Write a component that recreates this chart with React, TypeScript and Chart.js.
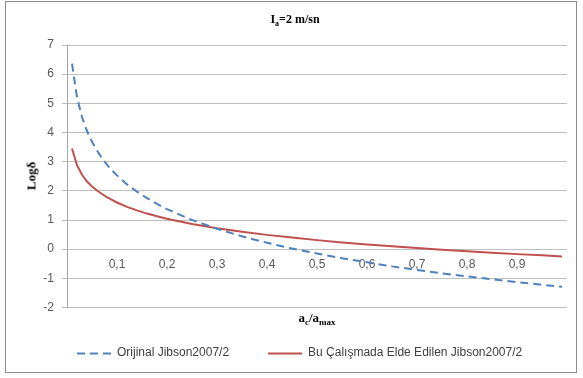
import React, { useEffect, useRef } from "react";
import { Chart, registerables } from "chart.js";

Chart.register(...registerables);

// a_c / a_max values (x)
const ratio = [
  0.01, 0.02, 0.03, 0.04, 0.05, 0.06, 0.07, 0.08, 0.09, 0.1,
  0.12, 0.14, 0.16, 0.18, 0.2, 0.25, 0.3, 0.35, 0.4, 0.45,
  0.5, 0.55, 0.6, 0.65, 0.7, 0.75, 0.8, 0.85, 0.9, 0.95, 0.99,
];

// Orijinal Jibson2007/2 (dashed blue)
const orijinal = [
  6.36, 5.21, 4.53, 4.05, 3.68, 3.38, 3.12, 2.9, 2.7, 2.53,
  2.22, 1.97, 1.75, 1.55, 1.37, 1.0, 0.7, 0.44, 0.22, 0.02,
  -0.15, -0.31, -0.45, -0.59, -0.71, -0.83, -0.93, -1.03, -1.13, -1.22, -1.29,
];

// Bu Çalışmada Elde Edilen Jibson2007/2 (solid red)
const buCalisma = [
  3.45, 2.88, 2.55, 2.32, 2.15, 2.01, 1.89, 1.78, 1.69, 1.6,
  1.45, 1.33, 1.22, 1.13, 1.04, 0.86, 0.72, 0.6, 0.49, 0.4,
  0.31, 0.23, 0.16, 0.1, 0.04, -0.02, -0.07, -0.12, -0.17, -0.21, -0.25,
];

const seriesNames = ["Orijinal Jibson2007/2", "Bu Çalışmada Elde Edilen Jibson2007/2"];
const xTickValues = [0.1, 0.2, 0.3, 0.4, 0.5, 0.6, 0.7, 0.8, 0.9];
const xTickLabels = ["0,1", "0,2", "0,3", "0,4", "0,5", "0,6", "0,7", "0,8", "0,9"];
const yMin = -2;
const yMax = 7;

const tickFont = { family: "'Liberation Sans', Arial, sans-serif", size: 12 };
const tickColor = "#595959";
const legendSampleWidth = 34;

// Draws the legend line samples (open paths, so dashes stay visible)
const legendLinesPlugin = {
  id: "legendLines",
  afterDraw(chart: any) {
    const legend = chart.legend;
    if (!legend || !legend.legendHitBoxes) return;
    const ctx = chart.ctx;
    legend.legendHitBoxes.forEach((hb: any, i: number) => {
      const ds = chart.data.datasets[i];
      if (!ds) return;
      const y = Math.round(hb.top + hb.height / 2) + 0.5;
      ctx.save();
      ctx.strokeStyle = ds.borderColor;
      ctx.lineWidth = ds.borderWidth;
      ctx.setLineDash(ds.borderDash || []);
      ctx.lineCap = "butt";
      ctx.beginPath();
      ctx.moveTo(hb.left, y);
      ctx.lineTo(hb.left + legendSampleWidth, y);
      ctx.stroke();
      ctx.restore();
    });
  },
};

export default function App() {
  const ref = useRef<HTMLCanvasElement>(null);

  useEffect(() => {
    if (!ref.current) return;
    const chart = new Chart(ref.current, {
      type: "line",
      data: {
        datasets: [
          {
            label: seriesNames[0],
            data: ratio.map((x, i) => ({ x, y: orijinal[i] })),
            borderColor: "#4f81bd",
            backgroundColor: "#4f81bd",
            borderWidth: 2,
            borderDash: [8, 5],
            pointRadius: 0,
            tension: 0,
            fill: false,
          },
          {
            label: seriesNames[1],
            data: ratio.map((x, i) => ({ x, y: buCalisma[i] })),
            borderColor: "#c0504d",
            backgroundColor: "#c0504d",
            borderWidth: 2,
            pointRadius: 0,
            tension: 0,
            fill: false,
          },
        ],
      },
      options: {
        responsive: false,
        animation: false,
        devicePixelRatio: 1,
        layout: { padding: { left: 38, top: 45, right: 16, bottom: 9.5 } },
        plugins: {
          title: { display: false },
          tooltip: { enabled: false },
          legend: {
            position: "bottom",
            align: "start",
            labels: {
              usePointStyle: true,
              pointStyle: "line",
              pointStyleWidth: legendSampleWidth,
              padding: 39,
              color: "#404040",
              font: { family: "'Liberation Sans', Arial, sans-serif", size: 12 },
              generateLabels: (c: any) =>
                Chart.defaults.plugins.legend.labels
                  .generateLabels(c)
                  .map((l: any) => ({
                    ...l,
                    strokeStyle: "rgba(0,0,0,0)",
                    fillStyle: "rgba(0,0,0,0)",
                  })),
            },
          },
        },
        scales: {
          x: {
            type: "linear",
            min: 0,
            max: 1,
            position: { y: 0 },
            grid: { display: false, drawTicks: false },
            border: { display: false },
            afterBuildTicks: (s: any) => {
              s.ticks = xTickValues.map((v) => ({ value: v }));
            },
            ticks: {
              padding: 8,
              color: tickColor,
              font: tickFont,
              autoSkip: false,
              maxRotation: 0,
              callback: (_v: any, i: number) => xTickLabels[i],
            },
          },
          y: {
            type: "linear",
            min: yMin,
            max: yMax,
            grid: { color: "#bfbfbf", tickLength: 5, lineWidth: 1 },
            border: { color: "#a6a6a6" },
            ticks: { stepSize: 1, padding: 8, color: tickColor, font: tickFont },
            afterFit: (s: any) => {
              s.width = 29;
            },
          },
        },
      },
      plugins: [legendLinesPlugin],
    } as any);
    return () => chart.destroy();
  }, []);

  const serif = "'Liberation Serif', 'Times New Roman', serif";

  return (
    <div
      style={{
        position: "absolute",
        left: 0,
        top: 0,
        width: 583,
        height: 378,
        background: "#ffffff",
        overflow: "hidden",
      }}
    >
      <div
        style={{
          position: "absolute",
          left: 5,
          top: 1,
          width: 572,
          height: 372,
          boxSizing: "border-box",
          border: "1px solid #8c8c8c",
        }}
      />
      <canvas
        ref={ref}
        width={583}
        height={378}
        style={{ position: "absolute", left: 0, top: 0, width: 583, height: 378 }}
      />
      <div
        style={{
          position: "absolute",
          left: 295,
          top: 20,
          transform: "translate(-50%, -50%)",
          whiteSpace: "nowrap",
          fontFamily: serif,
          fontWeight: "bold",
          fontSize: 12,
          lineHeight: "14px",
          color: "#000",
        }}
      >
        I<span style={{ fontSize: 8, position: "relative", top: 3 }}>a</span>=2 m/sn
      </div>
      <div
        style={{
          position: "absolute",
          left: 31,
          top: 176,
          transform: "translate(-50%, -50%) rotate(-90deg)",
          whiteSpace: "nowrap",
          fontFamily: serif,
          fontWeight: "bold",
          fontSize: 13,
          lineHeight: "15px",
          color: "#000",
        }}
      >
        Logδ
      </div>
      <div
        style={{
          position: "absolute",
          left: 317,
          top: 318,
          transform: "translate(-50%, -50%)",
          whiteSpace: "nowrap",
          fontFamily: serif,
          fontWeight: "bold",
          fontSize: 13,
          lineHeight: "15px",
          color: "#000",
        }}
      >
        a<span style={{ fontSize: 9, position: "relative", top: 3 }}>c</span>/a
        <span style={{ fontSize: 9, position: "relative", top: 3 }}>max</span>
      </div>
    </div>
  );
}
